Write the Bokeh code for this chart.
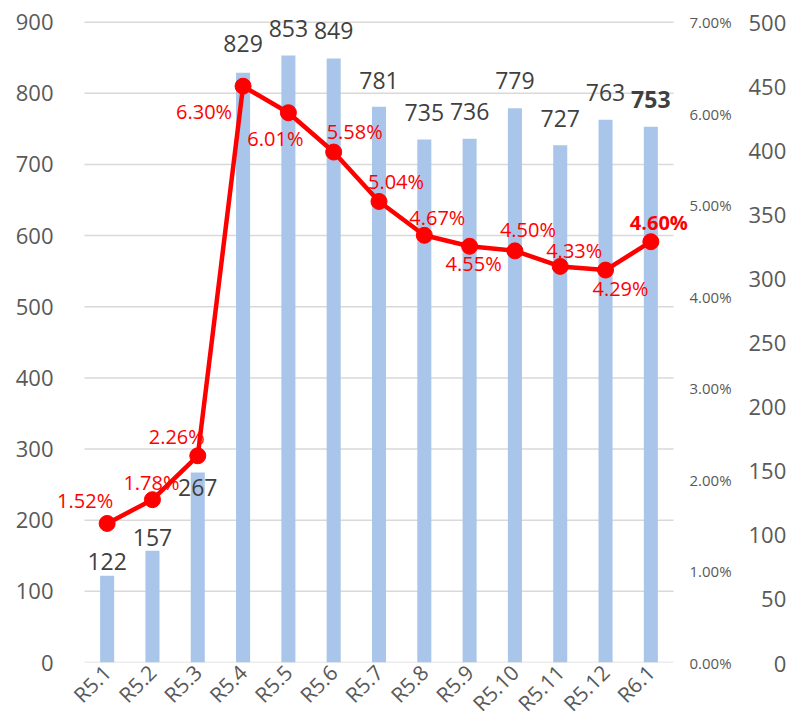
import math
from bokeh.plotting import figure
from bokeh.models import (ColumnDataSource, Range1d, LinearAxis,
                          FixedTicker, NumeralTickFormatter, Label)
from bokeh.embed import file_html
from bokeh.resources import INLINE

# ---- data ----
months = ["R5.1", "R5.2", "R5.3", "R5.4", "R5.5", "R5.6", "R5.7",
          "R5.8", "R5.9", "R5.10", "R5.11", "R5.12", "R6.1"]
counts = [122, 157, 267, 829, 853, 849, 781, 735, 736, 779, 727, 763, 753]
rates = [1.52, 1.78, 2.26, 6.30, 6.01, 5.58, 5.04, 4.67, 4.55, 4.50, 4.33, 4.29, 4.60]
left_ticks = [0, 100, 200, 300, 400, 500, 600, 700, 800, 900]
pct_ticks = [0.00, 0.01, 0.02, 0.03, 0.04, 0.05, 0.06, 0.07]
right_ticks = [0, 50, 100, 150, 200, 250, 300, 350, 400, 450, 500]

# ---- label placement (pixels, up positive) ----
bar_lbl_dy = [14, 13, -15, 29, 27, 28, 26, 27, 27, 28, 27, 27, 27]
pct_lbl_dx = [-22, -1, -21, -39, -13, 21, 17, 13, 4, 13, 14, 15, 8]
pct_lbl_dy = [23, 17, 19, -25, -26, 21, 20, 18, -17, 21, 16, -18, 19]

FONT = "Open Sans"
AXIS_COL = "#595959"
LBL_COL = "#404040"
RED = "#FF0000"
BAR = "#A9C6EA"

n = len(months)
idx = list(range(n))
left_max = 900
right_pct_max = 0.07
right_cnt_max = 500
headroom = 915 / 900.0   # extra room above the top gridline for labels

p = figure(x_range=Range1d(-1.14, n - 0.5 + 0.331),
           y_range=Range1d(0, left_max * headroom),
           frame_width=633, frame_height=651,
           min_border_left=55, min_border_right=5, min_border_top=11,
           min_border_bottom=5,
           output_backend="svg", toolbar_location=None)
p.outline_line_color = None
p.background_fill_color = "white"
p.border_fill_color = "white"
p.extra_y_ranges = {"pct": Range1d(0, right_pct_max * headroom),
                    "r2": Range1d(0, right_cnt_max * headroom)}

src = ColumnDataSource(dict(x=idx, count=counts,
                            rate=[r / 100 for r in rates]))

# horizontal gridlines spanning the category band
p.xgrid.grid_line_color = None
p.ygrid.grid_line_color = None
p.segment(x0=[-0.5] * len(left_ticks), x1=[n - 0.5] * len(left_ticks),
          y0=left_ticks, y1=left_ticks, line_color="#D9D9D9", line_width=1.5)

p.vbar(x="x", top="count", width=0.31, source=src,
       fill_color=BAR, line_color=None)
p.line(x="x", y="rate", source=src, y_range_name="pct",
       line_color=RED, line_width=4.5)
p.scatter(x="x", y="rate", source=src, y_range_name="pct",
          size=16, fill_color=RED, line_color=RED)

def style_axis(ax, size, standoff):
    ax.axis_line_color = None
    ax.major_tick_line_color = None
    ax.minor_tick_line_color = None
    ax.major_tick_in = 0
    ax.major_tick_out = 0
    ax.major_label_standoff = standoff
    ax.major_label_text_font = FONT
    ax.major_label_text_font_size = size
    ax.major_label_text_color = AXIS_COL

# left axis
ya = p.yaxis[0]
ya.ticker = FixedTicker(ticks=left_ticks)
style_axis(ya, "22px", 2)

# bottom axis
xa = p.xaxis[0]
xa.ticker = FixedTicker(ticks=idx)
xa.major_label_overrides = {i: m for i, m in zip(idx, months)}
style_axis(xa, "21px", 6)
xa.major_label_orientation = math.pi / 4

# right percent axis
pa = LinearAxis(y_range_name="pct", ticker=FixedTicker(ticks=pct_ticks),
                formatter=NumeralTickFormatter(format="0.00%"))
style_axis(pa, "15px", 1)
p.add_layout(pa, "right")

# far right axis
ra = LinearAxis(y_range_name="r2", ticker=FixedTicker(ticks=right_ticks))
ra.major_label_overrides = {v: "\u2007" * (3 - len(str(v))) + str(v) for v in right_ticks}
style_axis(ra, "22px", 14)
p.add_layout(ra, "right")

# data labels
for i in idx:
    style = "bold" if i == n - 1 else "normal"
    p.add_layout(Label(x=i, y=counts[i], text=str(counts[i]),
                       y_offset=bar_lbl_dy[i], text_align="center",
                       text_baseline="middle", text_font=FONT,
                       text_font_size="23px", text_color=LBL_COL,
                       text_font_style=style))
    p.add_layout(Label(x=i, y=rates[i] / 100, text="%.2f%%" % rates[i],
                       y_range_name="pct", x_offset=pct_lbl_dx[i],
                       y_offset=pct_lbl_dy[i], text_align="center",
                       text_baseline="middle", text_font=FONT,
                       text_font_size="20px", text_color=RED,
                       text_font_style=style))

open("out.html", "w").write(file_html(p, INLINE))
